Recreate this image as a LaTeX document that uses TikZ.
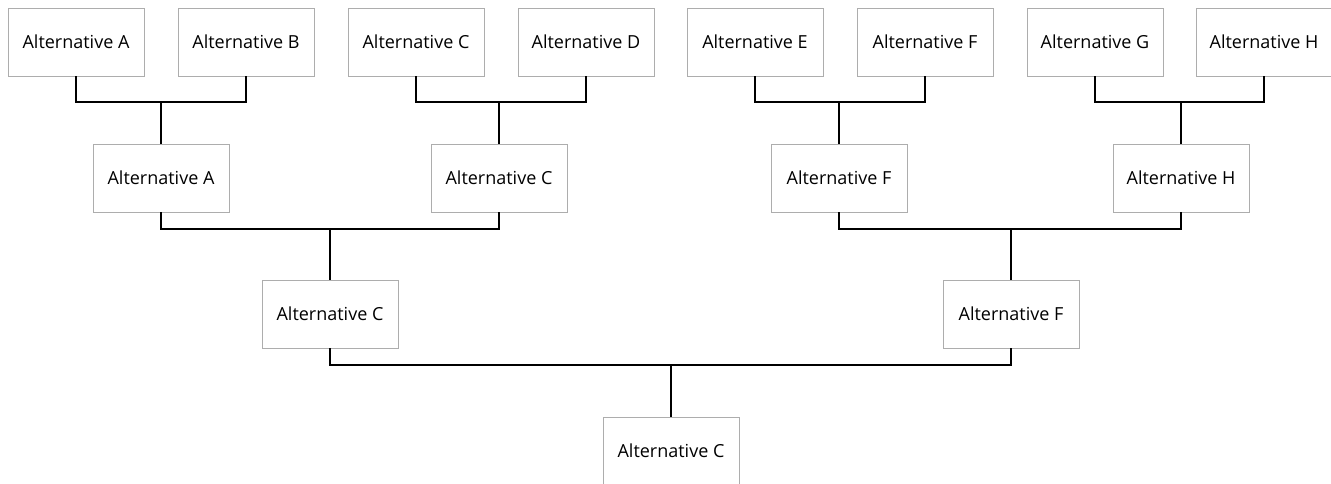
\documentclass[tikz,border=0pt]{standalone}
\usepackage{fontspec}
\setmainfont{Open Sans}
\begin{document}
\begin{tikzpicture}[x=1pt,y=-1pt,
  altbox/.style={draw=black!32, line width=0.9pt, fill=white, minimum width=136pt, minimum height=68pt, inner sep=0pt, font=\fontsize{18}{21}\selectfont, text=black},
  link/.style={draw=black, line width=2.5pt}]
\useasboundingbox (0,0) rectangle (1331,484);
\clip (0,0) rectangle (1331,484);
% level 1
\node[altbox] (a1) at (76,42) {Alternative A};
\node[altbox] (b1) at (246,42) {Alternative B};
\node[altbox] (c1) at (416,42) {Alternative C};
\node[altbox] (d1) at (586,42) {Alternative D};
\node[altbox] (e1) at (755,42) {Alternative E};
\node[altbox] (f1) at (925,42) {Alternative F};
\node[altbox] (g1) at (1095,42) {Alternative G};
\node[altbox] (h1) at (1264,42) {Alternative H};
% level 2
\node[altbox] (a2) at (161,178) {Alternative A};
\node[altbox] (c2) at (499,178) {Alternative C};
\node[altbox] (f2) at (839,178) {Alternative F};
\node[altbox] (h2) at (1181,178) {Alternative H};
% level 3
\node[altbox] (c3) at (330,314) {Alternative C};
\node[altbox] (f3) at (1011,314) {Alternative F};
% level 4
\node[altbox] (c4) at (671,451) {Alternative C};
% connectors
\draw[link] (a1.south) |- (161,102) -| (b1.south);
\draw[link] (161,102) -- (a2.north);
\draw[link] (c1.south) |- (499,102) -| (d1.south);
\draw[link] (499,102) -- (c2.north);
\draw[link] (e1.south) |- (839,102) -| (f1.south);
\draw[link] (839,102) -- (f2.north);
\draw[link] (g1.south) |- (1181,102) -| (h1.south);
\draw[link] (1181,102) -- (h2.north);
\draw[link] (a2.south) |- (330,229) -| (c2.south);
\draw[link] (330,229) -- (c3.north);
\draw[link] (f2.south) |- (1011,229) -| (h2.south);
\draw[link] (1011,229) -- (f3.north);
\draw[link] (c3.south) |- (671,365) -| (f3.south);
\draw[link] (671,365) -- (c4.north);
\end{tikzpicture}
\end{document}
